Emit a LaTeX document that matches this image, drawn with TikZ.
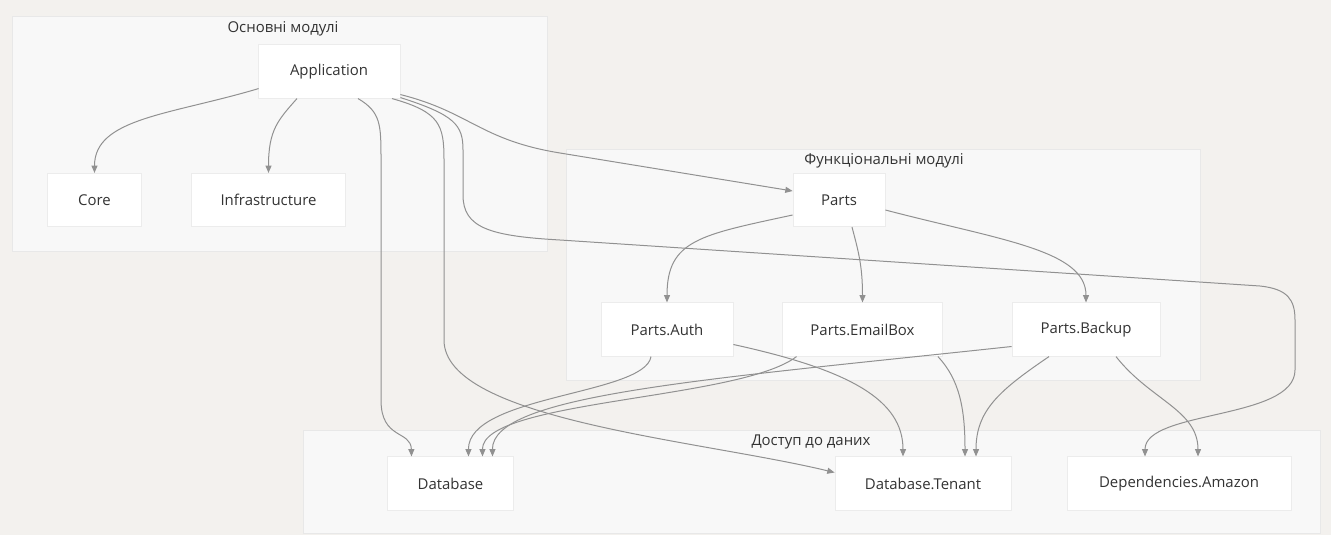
\documentclass[tikz,border=0pt]{standalone}
\usepackage{fontspec}
\setmainfont{Open Sans}
\usetikzlibrary{arrows.meta,calc}
\definecolor{pagebg}{RGB}{243,241,238}
\definecolor{groupfill}{RGB}{248,248,248}
\definecolor{groupline}{RGB}{232,232,232}
\definecolor{boxline}{RGB}{236,236,236}
\definecolor{wire}{RGB}{145,145,145}
\definecolor{ink}{RGB}{51,51,51}
\begin{document}
\begin{tikzpicture}[x=0.75pt,y=-0.75pt,
  every node/.style={font=\fontsize{11.2}{13}\selectfont, text=ink},
  group/.style={fill=groupfill, draw=groupline, line width=0.75pt},
  grouplabel/.style={inner sep=0pt},
  box/.style={fill=white, draw=boxline, line width=0.6pt, inner sep=0pt, minimum height=40pt},
  link/.style={draw=wire, line width=0.75pt, -{Triangle[length=5.5pt,width=4.5pt]}}
]
% canvas
\fill[pagebg] (0,0) rectangle (1331,535);
\useasboundingbox (0,0) rectangle (1331,535);

% groups
\draw[group] (12,17) rectangle (547,251);
\node[grouplabel] (g1) at (283,29) {Основні модулі};
\draw[group] (566,149) rectangle (1200,380);
\node[grouplabel] (g2) at (884,161) {Функціональні модулі};
\draw[group] (303,430) rectangle (1320,533);
\node[grouplabel] (g3) at (811,442) {Доступ до даних};

% modules
\node[box, minimum width=106.5pt] (app) at (329,71.5) {Application};
\node[box, minimum width=71pt] (core) at (94.5,200) {Core};
\node[box, minimum width=116pt] (infra) at (268.5,200) {Infrastructure};
\node[box, minimum width=69pt] (parts) at (839,200) {Parts};
\node[box, minimum width=99pt] (auth) at (667,329.5) {Parts.Auth};
\node[box, minimum width=120pt] (email) at (862.5,329.5) {Parts.EmailBox};
\node[box, minimum width=111pt] (backup) at (1086,329.5) {Parts.Backup};
\node[box, minimum width=94pt] (db) at (450.5,483.5) {Database};
\node[box, minimum width=132pt] (tenant) at (923,483.5) {Database.Tenant};
\node[box, minimum width=168pt] (amazon) at (1179,483.5) {Dependencies.Amazon};

% Application dependencies
\draw[link] ($(app.south west)+(1,-10)$) .. controls (170,115) and (94.5,118) .. (core.north);
\draw[link] ($(app.south)+(-32,0)$) .. controls (278,120) and (268.5,130) .. (infra.north);
\draw[link] ($(app.south)+(29,0)$) .. controls (381,112) and (381,125) .. (381,160)
  -- (381,400) .. controls (381,440) and (411,430) .. ($(db.north)+(-39,0)$);
\draw[link] ($(app.south)+(63,0)$) .. controls (440,112) and (444,125) .. (444,160)
  -- (444,340) .. controls (444,420) and (700,440) .. ($(tenant.west)+(0,-11)$);
\draw[link] ($(app.south east)+(0,-4)$) .. controls (470,112) and (480,140) .. (560,153)
  -- ($(parts.west)+(0,-9)$);
\draw[link] ($(app.south east)+(0,-1)$) .. controls (455,115) and (463,125) .. (463,150)
  -- (463,195) .. controls (463,228) and (490,236) .. (560,240)
  -- (1260,286) .. controls (1288,289) and (1295,300) .. (1295,320)
  -- (1295,370) .. controls (1295,420) and (1145,410) .. ($(amazon.north)+(-34,0)$);

% Parts dependencies
\draw[link] ($(parts.west)+(0,15)$) .. controls (700,235) and (667,240) .. (auth.north);
\draw[link] ($(parts.south)+(13,0)$) .. controls (858,250) and (862.5,265) .. (email.north);
\draw[link] ($(parts.east)+(0,10)$) .. controls (1000,240) and (1086,250) .. (backup.north);

% data access
\draw[link] ($(auth.south)+(-16,0)$) .. controls (645,395) and (468,395) .. ($(db.north)+(18,0)$);
\draw[link] ($(auth.east)+(0,15)$) .. controls (850,370) and (903,400) .. ($(tenant.north)+(-20,0)$);
\draw[link] ($(email.south)+(-66,0)$) .. controls (740,400) and (482,400) .. ($(db.north)+(32,0)$);
\draw[link] ($(email.south east)+(-5,0)$) .. controls (960,380) and (965,410) .. ($(tenant.north)+(42,0)$);
\draw[link] ($(backup.west)+(0,17)$) .. controls (700,380) and (492,395) .. ($(db.north)+(42,0)$);
\draw[link] ($(backup.south)+(-37,0)$) .. controls (1000,390) and (976,410) .. ($(tenant.north)+(53,0)$);
\draw[link] ($(backup.south)+(30,0)$) .. controls (1150,400) and (1198,410) .. ($(amazon.north)+(19,0)$);
\end{tikzpicture}
\end{document}
